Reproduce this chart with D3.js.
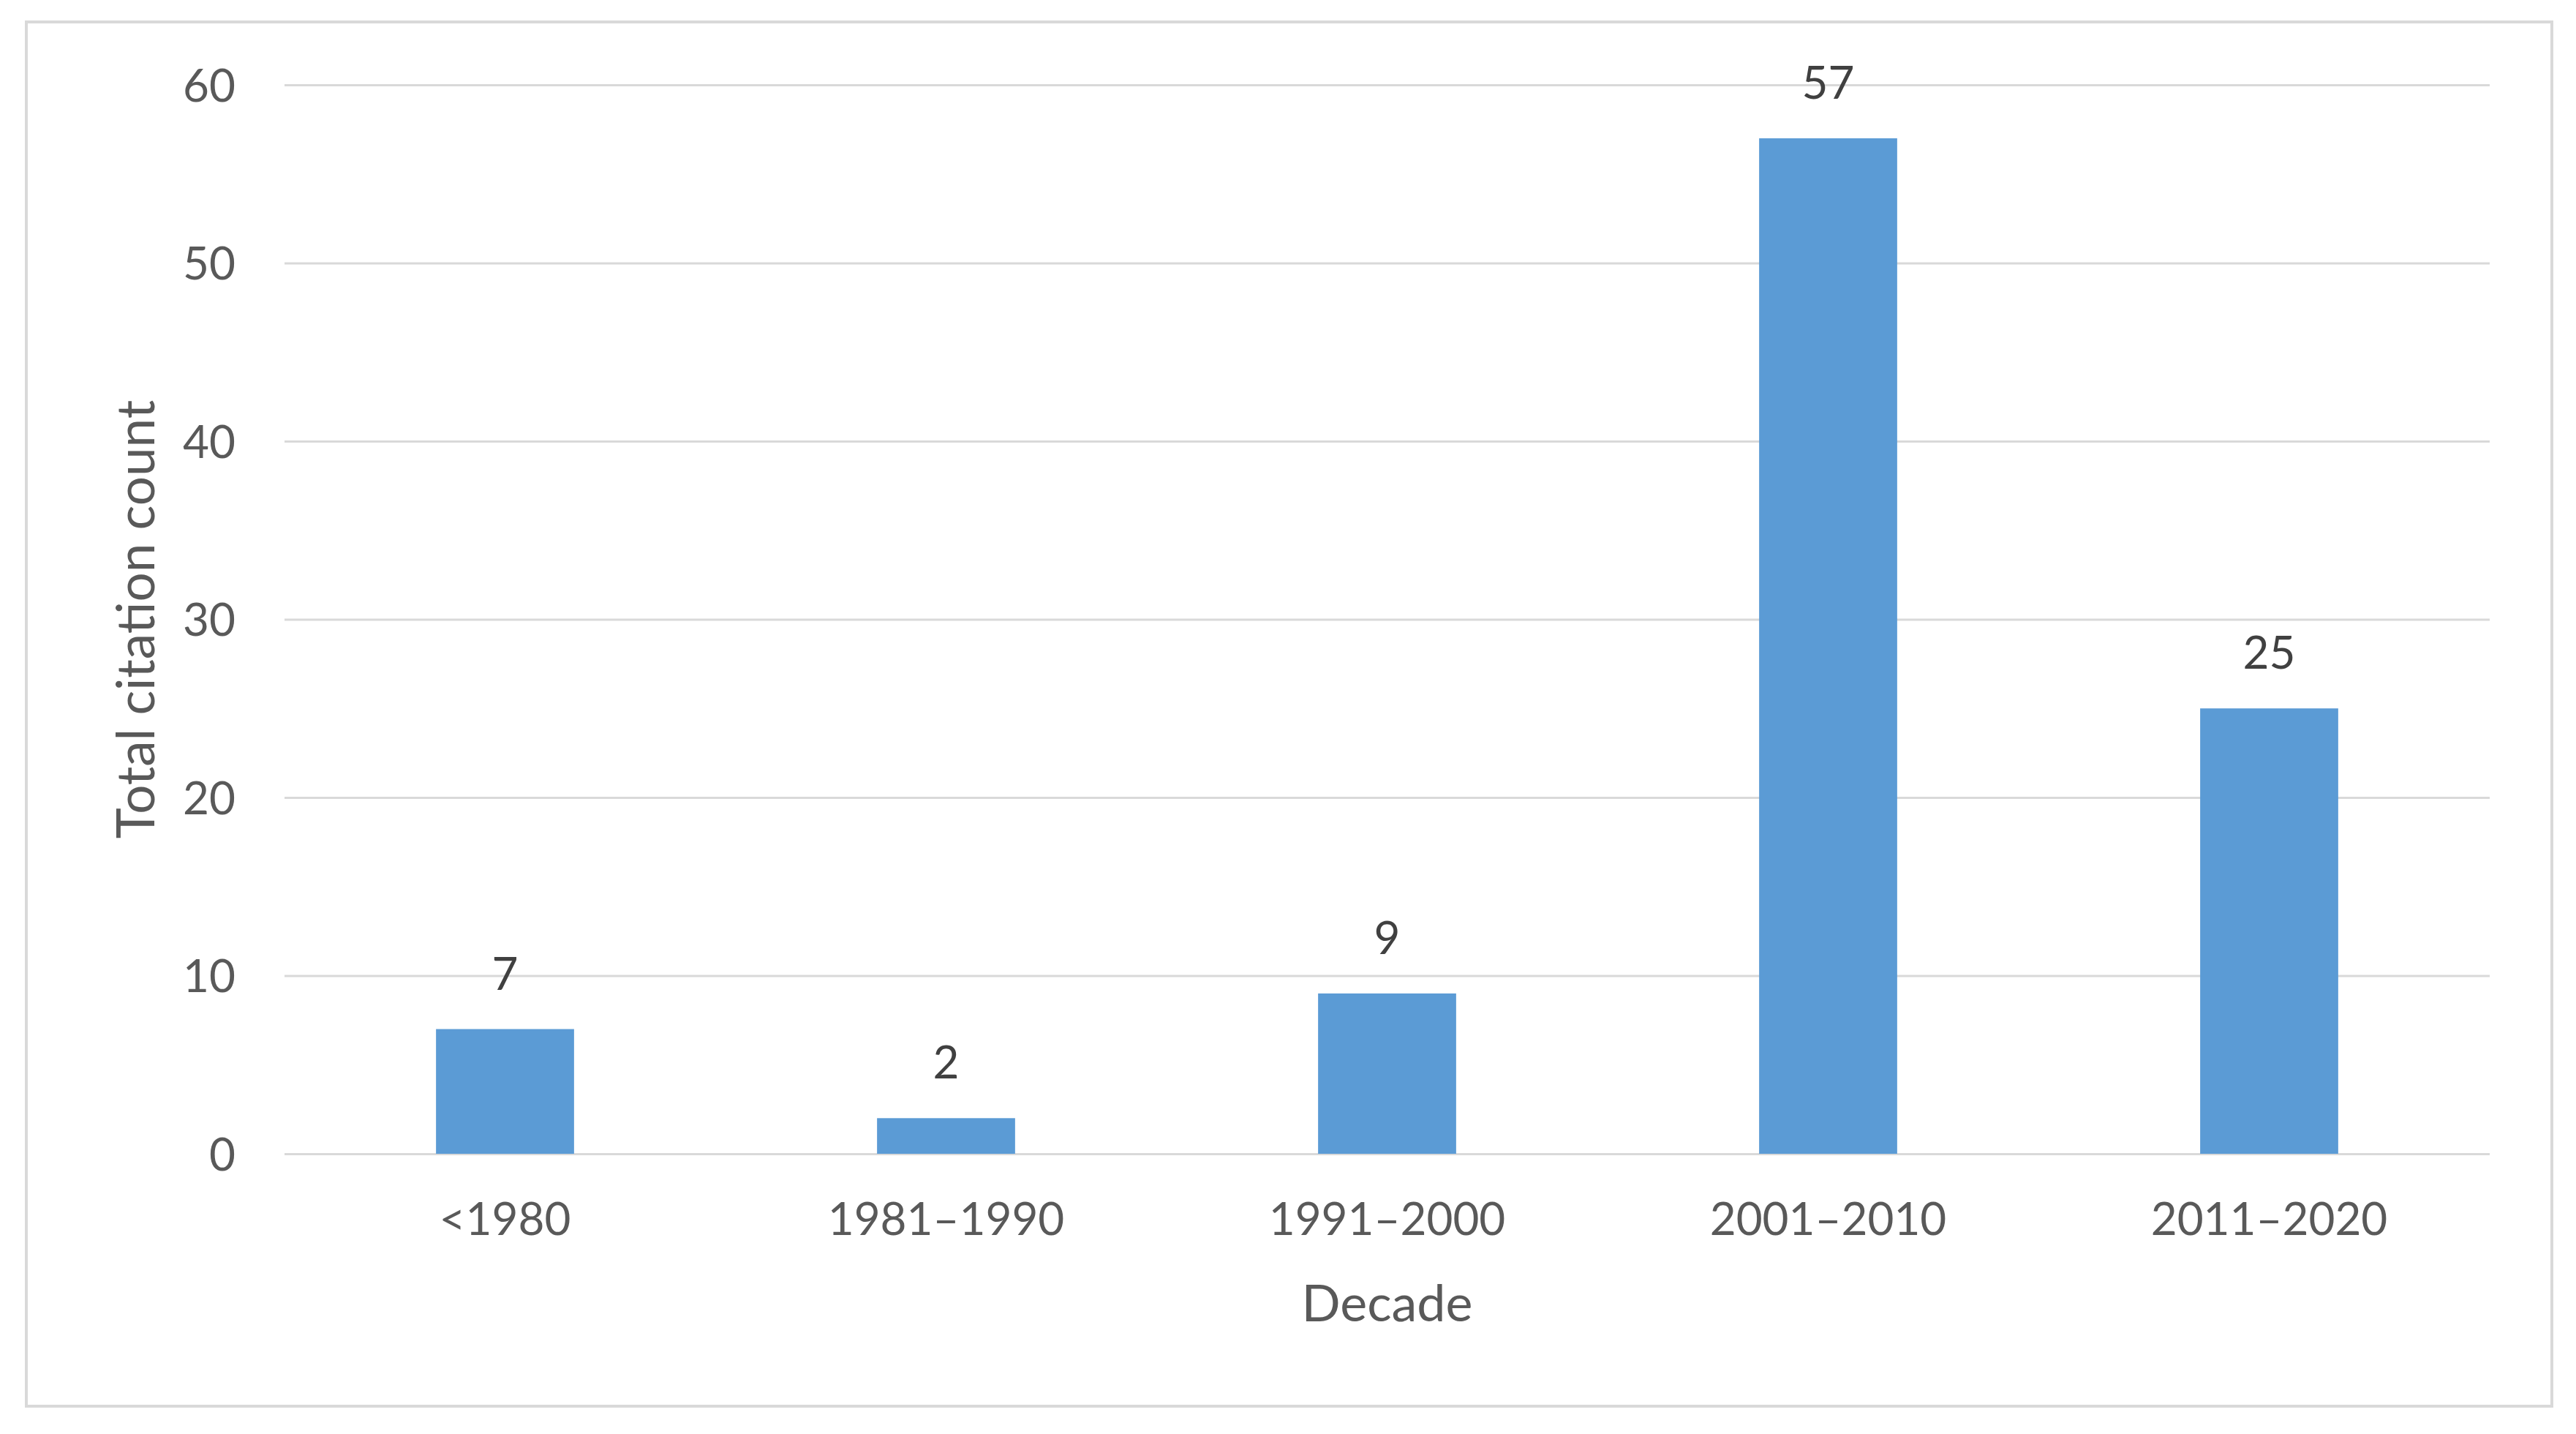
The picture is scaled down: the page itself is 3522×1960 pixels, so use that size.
<!DOCTYPE html>
<html>
<head>
<meta charset="utf-8">
<script src="https://cdn.jsdelivr.net/npm/d3@7"></script>
<style>
  html, body { margin: 0; padding: 0; background: #ffffff; }
  svg { display: block; }
  text { font-family: Lato, "Open Sans", "Noto Sans", sans-serif; }
</style>
</head>
<body>
<script>
// ---- data ----
const categories = ["<1980", "1981–1990", "1991–2000", "2001–2010", "2011–2020"];
const citationCounts = [7, 2, 9, 57, 25];
const yTicks = [0, 10, 20, 30, 40, 50, 60];
const xTitle = "Decade";
const yTitle = "Total citation count";

const W = 3522, H = 1960;
const plot = { left: 389, right: 3404, top: 116, bottom: 1577 };

const svg = d3.select("body").append("svg")
  .attr("width", W).attr("height", H);

svg.append("rect").attr("width", W).attr("height", H).attr("fill", "#ffffff");

// outer border
svg.append("rect")
  .attr("x", 36).attr("y", 30)
  .attr("width", 3489 - 36).attr("height", 1922 - 30)
  .attr("fill", "none").attr("stroke", "#d9d9d9").attr("stroke-width", 4);

const x = d3.scaleBand()
  .domain(categories)
  .range([plot.left, plot.right])
  .paddingInner(0.687)
  .paddingOuter(0.3435);

const y = d3.scaleLinear()
  .domain([0, 60])
  .range([plot.bottom, plot.top]);

// gridlines via axis
const yAxis = d3.axisLeft(y)
  .tickValues(yTicks)
  .tickSize(-(plot.right - plot.left))
  .tickPadding(67)
  .tickFormat(d3.format("d"));

const gy = svg.append("g")
  .attr("transform", `translate(${plot.left},0)`)
  .call(yAxis);
gy.select(".domain").remove();
gy.selectAll(".tick line").attr("stroke", "#d9d9d9").attr("stroke-width", 3);
gy.selectAll(".tick text")
  .attr("fill", "#595959")
  .attr("font-size", 62)
  .attr("dy", "0.36em");

// bars
svg.append("g").selectAll("rect")
  .data(categories)
  .join("rect")
  .attr("x", d => x(d))
  .attr("width", x.bandwidth())
  .attr("y", (d, i) => y(citationCounts[i]))
  .attr("height", (d, i) => y(0) - y(citationCounts[i]))
  .attr("fill", "#5b9bd5");

// data labels
svg.append("g").selectAll("text")
  .data(categories)
  .join("text")
  .attr("x", d => x(d) + x.bandwidth() / 2)
  .attr("y", (d, i) => y(citationCounts[i]) - 54)
  .attr("text-anchor", "middle")
  .attr("fill", "#404040")
  .attr("font-size", 62)
  .text((d, i) => citationCounts[i]);

// x axis labels
const xAxis = d3.axisBottom(x).tickSize(0).tickPadding(0);
const gx = svg.append("g")
  .attr("transform", `translate(0,${plot.bottom})`)
  .call(xAxis);
gx.select(".domain").remove();
gx.selectAll(".tick text")
  .attr("fill", "#595959")
  .attr("font-size", 62)
  .attr("y", 111)
  .attr("dy", 0);

// axis titles
svg.append("text")
  .attr("x", (plot.left + plot.right) / 2)
  .attr("y", 1806)
  .attr("text-anchor", "middle")
  .attr("fill", "#595959")
  .attr("font-size", 70)
  .text(xTitle);

svg.append("text")
  .attr("transform", `translate(211,${(plot.top + plot.bottom) / 2}) rotate(-90)`)
  .attr("text-anchor", "middle")
  .attr("fill", "#595959")
  .attr("font-size", 71)
  .text(yTitle);
</script>
</body>
</html>
